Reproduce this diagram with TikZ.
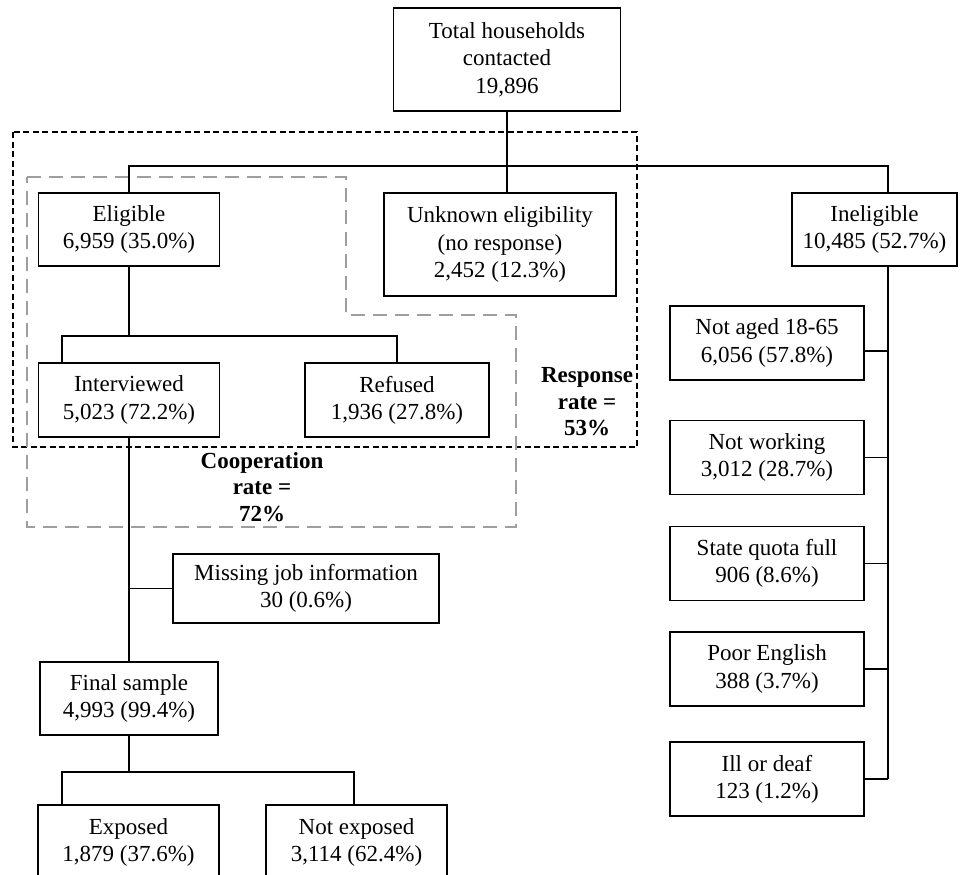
\documentclass[tikz,border=0pt]{standalone}
\usepackage{fontspec}
\setmainfont{Liberation Serif}
\begin{document}
\begin{tikzpicture}[x=1pt,y=-1pt,
  every node/.style={font=\fontsize{23}{27.3}\selectfont, align=center},
  box/.style={draw, line width=1.4pt, inner sep=2pt},
  conn/.style={line width=1.4pt},
  lbl/.style={font=\fontsize{23}{26.5}\selectfont\bfseries, inner sep=0pt},
  blackdash/.style={line width=1.4pt, dash pattern=on 6pt off 3.5pt},
  greydash/.style={draw=black!38, line width=1.8pt, dash pattern=on 14pt off 8pt}]
\clip (0,0) rectangle (961,875);
% boxes
\node[box, minimum width=227pt, minimum height=103pt] (total) at (507,59.5) {Total households\\contacted\\19,896};
\node[box, minimum width=181pt, minimum height=73pt] (eligible) at (129,229.5) {Eligible\\6,959 (35.0\%)};
\node[box, minimum width=232pt, minimum height=103pt] (unknown) at (500,244.5) {Unknown eligibility\\(no response)\\2,452 (12.3\%)};
\node[box, minimum width=165pt, minimum height=73pt] (inel) at (874.5,229.5) {Ineligible\\10,485 (52.7\%)};
\node[box, minimum width=181pt, minimum height=74pt] (interv) at (129,400) {Interviewed\\5,023 (72.2\%)};
\node[box, minimum width=184pt, minimum height=74pt] (refused) at (397,400) {Refused\\1,936 (27.8\%)};
\node[box, minimum width=266pt, minimum height=69pt] (missing) at (306,588.5) {Missing job information\\30 (0.6\%)};
\node[box, minimum width=178pt, minimum height=73pt] (final) at (129,698.5) {Final sample\\4,993 (99.4\%)};
\node[box, minimum width=181pt, minimum height=75pt] (exposed) at (128.5,842.5) {Exposed\\1,879 (37.6\%)};
\node[box, minimum width=181pt, minimum height=75pt] (notexp) at (356.5,842.5) {Not exposed\\3,114 (62.4\%)};
\node[box, minimum width=194pt, minimum height=74pt] (notaged) at (767,343) {Not aged 18-65\\6,056 (57.8\%)};
\node[box, minimum width=194pt, minimum height=74pt] (notwork) at (767,457.5) {Not working\\3,012 (28.7\%)};
\node[box, minimum width=194pt, minimum height=74pt] (quota) at (767,563.5) {State quota full\\906 (8.6\%)};
\node[box, minimum width=194pt, minimum height=74pt] (poor) at (767,669) {Poor English\\388 (3.7\%)};
\node[box, minimum width=194pt, minimum height=74pt] (ill) at (767,779) {Ill or deaf\\123 (1.2\%)};
% dashed groupings
\draw[blackdash] (13,132) rectangle (637,447);
\draw[greydash] (27,177) -- (346,177) -- (346,315) -- (516,315) -- (516,527) -- (27,527) -- cycle;
\node[lbl] (resp) at (587,402) {Response\\rate =\\53\%};
\node[lbl] (coop) at (262,487) {Cooperation\\rate =\\72\%};
% junction coordinates
\coordinate (ispine) at (888,166);
\coordinate (eL) at (62,336);
\coordinate (eR) at (397,336);
\coordinate (fL) at (62,772);
\coordinate (fR) at (354,772);
% connectors
\draw[conn] (total.south) -- (total.south |- unknown.north);
\draw[conn] (eligible.north) |- (ispine) -- (ispine |- inel.north);
\draw[conn] (inel.south -| ispine) -- (ispine |- ill.east);
\draw[conn] ([yshift=-8pt]notaged.east) -- ([yshift=-8pt]notaged.east -| ispine);
\foreach \n in {notwork,quota,poor,ill}
  \draw[conn] (\n.east) -- (\n.east -| ispine);
\draw[conn] (eligible.south) -- (eligible.south |- eL);
\draw[conn] (eL |- interv.north) -- (eL) -- (eR) -- (refused.north);
\draw[conn] (interv.south) -- (final.north);
\draw[conn] (interv.south |- missing.west) -- (missing.west);
\draw[conn] (final.south) -- (final.south |- fL);
\draw[conn] (fL |- exposed.north) -- (fL) -- (fR) -- (fR |- notexp.north);
\end{tikzpicture}
\end{document}
